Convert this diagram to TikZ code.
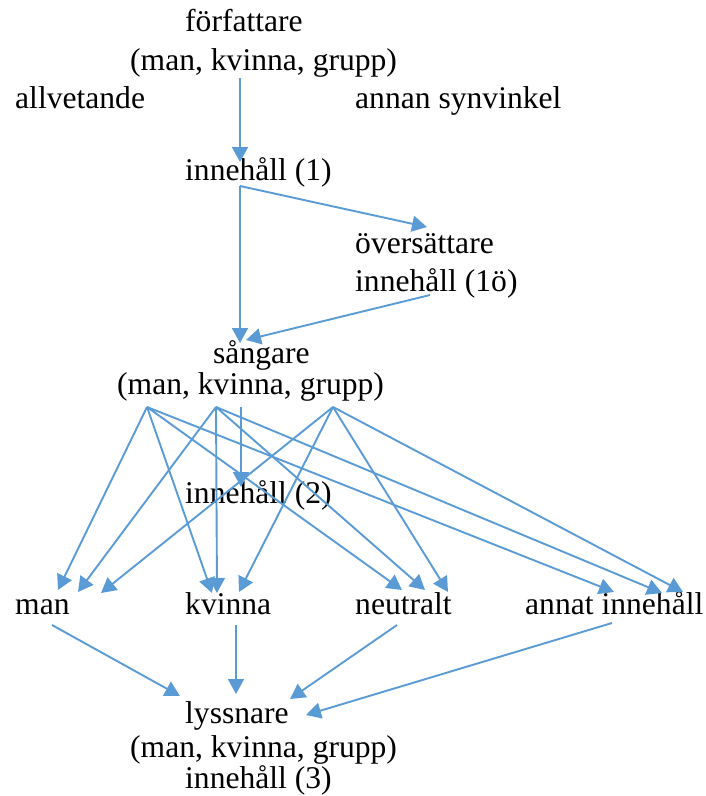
\documentclass[tikz,border=0pt]{standalone}
\usepackage{fontspec}
\setmainfont{Liberation Serif}
\usetikzlibrary{arrows.meta}
\definecolor{arrowblue}{RGB}{91,155,213}
\begin{document}
\begin{tikzpicture}[x=1pt,y=-1pt,
  lbl/.style={inner sep=0pt,anchor=base west,font=\fontsize{31.6}{38}\selectfont},
  conn/.style={draw=arrowblue,line width=1.9pt,-{Triangle[length=15pt,width=16pt]}}]
\useasboundingbox (0,0) rectangle (705,796);
% text
\node[lbl] (auth) at (185,31) {författare};
\node[lbl] (authg) at (130,70) {(man, kvinna, grupp)};
\node[lbl] (allv) at (15,108) {allvetande};
\node[lbl] (annan) at (355,108) {annan synvinkel};
\node[lbl] (inn1) at (185,180) {innehåll (1)};
\node[lbl] (over) at (355,253) {översättare};
\node[lbl] (inn1o) at (355,291) {innehåll (1ö)};
\node[lbl] (sang) at (213,363) {sångare};
\node[lbl] (sangg) at (117,394) {(man, kvinna, grupp)};
\node[lbl] (inn2) at (185,503) {innehåll (2)};
\node[lbl] (man) at (15,614) {man};
\node[lbl] (kv) at (185,614) {kvinna};
\node[lbl] (neu) at (355,614) {neutralt};
\node[lbl] (ann) at (525,614) {annat innehåll};
\node[lbl] (lyss) at (185,723) {lyssnare};
\node[lbl] (lyssg) at (130,757) {(man, kvinna, grupp)};
\node[lbl] (inn3) at (185,788) {innehåll (3)};
% connector end points
\coordinate (a0) at (240,78);
\coordinate (a1) at (240,162);
\coordinate (i1) at (240,186);
\coordinate (s0) at (240,343);
\coordinate (o0) at (427,227);
\coordinate (o1) at (430,295);
\coordinate (s1) at (246,340);
\coordinate (sA) at (147,407);
\coordinate (sB) at (216,407);
\coordinate (sC) at (241,407);
\coordinate (sD) at (333,407);
\coordinate (i2) at (241,487);
\coordinate (m1) at (58,590);
\coordinate (m2) at (78,592);
\coordinate (m3) at (101,593);
\coordinate (k1) at (212,593);
\coordinate (k2) at (217,593);
\coordinate (k3) at (239,592);
\coordinate (n1) at (402,590);
\coordinate (n2) at (425,590);
\coordinate (n3) at (448,592);
\coordinate (t1) at (614,592);
\coordinate (t2) at (662,593);
\coordinate (t3) at (683,592);
\coordinate (mb) at (52,625);
\coordinate (kb) at (236,625);
\coordinate (nb) at (397,625);
\coordinate (tb) at (612,623);
\coordinate (l1) at (180,696);
\coordinate (l2) at (236,694);
\coordinate (l3) at (290,699);
\coordinate (l4) at (306,715);
% connectors
\draw[conn] (a0) -- (a1);
\draw[conn] (i1) -- (s0);
\draw[conn] (i1) -- (o0);
\draw[conn] (o1) -- (s1);
\draw[conn] (sA) -- (m1);
\draw[conn] (sA) -- (k1);
\draw[conn] (sA) -- (n1);
\draw[conn] (sA) -- (t1);
\draw[conn] (sB) -- (m2);
\draw[conn] (sB) -- (k2);
\draw[conn] (sB) -- (n2);
\draw[conn] (sB) -- (t2);
\draw[conn] (sC) -- (i2);
\draw[conn] (sD) -- (m3);
\draw[conn] (sD) -- (k3);
\draw[conn] (sD) -- (n3);
\draw[conn] (sD) -- (t3);
\draw[conn] (mb) -- (l1);
\draw[conn] (kb) -- (l2);
\draw[conn] (nb) -- (l3);
\draw[conn] (tb) -- (l4);
\end{tikzpicture}
\end{document}
